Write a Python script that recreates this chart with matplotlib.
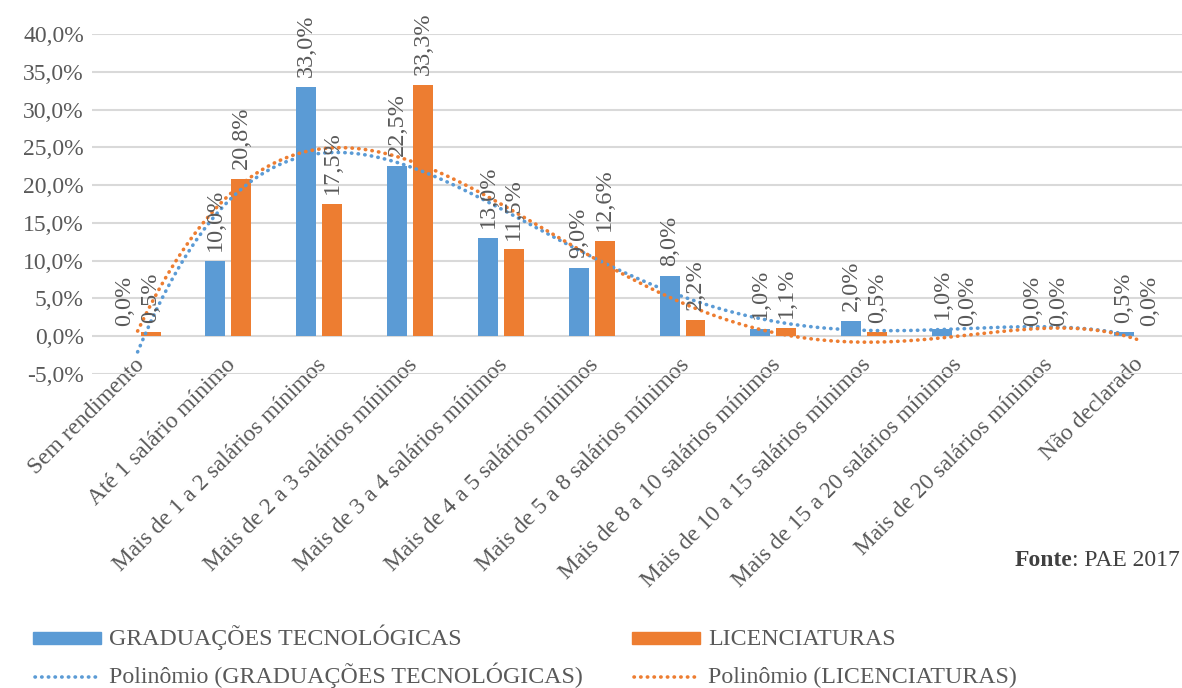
import numpy as np
import matplotlib.pyplot as plt
import matplotlib.transforms as mtransforms
from matplotlib.patches import Rectangle
from matplotlib.lines import Line2D

# Faixas de renda e percentuais por tipo de curso
faixas = ['Sem rendimento', 'Até 1 salário mínimo', 'Mais de 1 a 2 salários mínimos',
          'Mais de 2 a 3 salários mínimos', 'Mais de 3 a 4 salários mínimos',
          'Mais de 4 a 5 salários mínimos', 'Mais de 5 a 8 salários mínimos',
          'Mais de 8 a 10 salários mínimos', 'Mais de 10 a 15 salários mínimos',
          'Mais de 15 a 20 salários mínimos', 'Mais de 20 salários mínimos', 'Não declarado']
tecnologicas = [0.0, 10.0, 33.0, 22.5, 13.0, 9.0, 8.0, 1.0, 2.0, 1.0, 0.0, 0.5]
licenciaturas = [0.5, 20.8, 17.5, 33.3, 11.5, 12.6, 2.2, 1.1, 0.5, 0.0, 0.0, 0.0]
y_ticks = [-5, 0, 5, 10, 15, 20, 25, 30, 35, 40]
series = ['GRADUAÇÕES TECNOLÓGICAS', 'LICENCIATURAS']

azul = '#5b9bd5'
laranja = '#ed7d31'
cinza = '#595959'
pontilhado = (0, (0.1, 1.75))

plt.rcParams['font.family'] = ['Liberation Serif', 'DejaVu Serif']

W, H = 1182, 688
fig = plt.figure(figsize=(W / 100, H / 100), dpi=100)
ax = fig.add_axes([0.078, 0.4564, 0.922, 0.4942])

x = np.arange(1, len(faixas) + 1)
largura = 0.22
desl = 0.143

ax.bar(x - desl, tecnologicas, largura, color=azul, zorder=2)
ax.bar(x + desl, licenciaturas, largura, color=laranja, zorder=2)

def fmt(v):
    return f'{v:.1f}%'.replace('.', ',')

for xi, v in zip(x, tecnologicas):
    ax.annotate(fmt(v), (xi - desl, v), xytext=(0, 7), textcoords='offset points',
                rotation=90, ha='center', va='bottom', fontsize=17.5, color=cinza, zorder=4)
for xi, v in zip(x, licenciaturas):
    ax.annotate(fmt(v), (xi + desl, v), xytext=(0, 7), textcoords='offset points',
                rotation=90, ha='center', va='bottom', fontsize=17.5, color=cinza, zorder=4)

# Linhas de tendência polinomiais (ordem 5)
xs = np.linspace(1, len(faixas), 300)
p_tec = np.polyfit(x, tecnologicas, 5)
p_lic = np.polyfit(x, licenciaturas, 5)
ax.plot(xs, np.polyval(p_tec, xs), color=azul, lw=2.6, linestyle=pontilhado,
        dash_capstyle='round', zorder=3)
ax.plot(xs, np.polyval(p_lic, xs), color=laranja, lw=2.6, linestyle=pontilhado,
        dash_capstyle='round', zorder=3)

ax.set_xlim(0.5, len(faixas) + 0.5)
ax.set_ylim(-5, 40)
ax.set_yticks(y_ticks)
ax.set_yticklabels([fmt(t) for t in y_ticks], fontsize=17, color=cinza)
ax.set_xticks(x)
ax.set_xticklabels(faixas, rotation=45, ha='right', va='center', rotation_mode='anchor',
                   fontsize=16.8, color=cinza)
ax.tick_params(axis='y', length=0, pad=6)
ax.tick_params(axis='x', length=0, pad=-9)
desloc = mtransforms.ScaledTranslation(4 / 100, 0, fig.dpi_scale_trans)
for lbl in ax.get_xticklabels():
    lbl.set_transform(lbl.get_transform() + desloc)
ax.yaxis.grid(True, color='#d9d9d9', lw=1.5, zorder=0)
ax.set_axisbelow(True)
for s in ax.spines.values():
    s.set_visible(False)

# Fonte dos dados
t = fig.text(0.998, 0.186, ': PAE 2017', ha='right', va='center', fontsize=17, color='#404040')
fig.canvas.draw()
bb = t.get_window_extent().transformed(fig.transFigure.inverted())
fig.text(bb.x0, 0.186, 'Fonte', ha='right', va='center', fontsize=17,
         fontweight='bold', color='#404040')

# Legenda montada à mão, em pixels da figura
def fx(px):
    return px / W

def fy(py):
    return 1 - py / H

for cor, nome, x0 in [(azul, series[0], 33), (laranja, series[1], 632)]:
    fig.add_artist(Rectangle((fx(x0), fy(644)), fx(68), 12 / H, color=cor,
                             transform=fig.transFigure))
    fig.text(fx(x0 + 76), fy(645), nome, ha='left', va='baseline', fontsize=17.2, color=cinza)
    fig.add_artist(Line2D([fx(x0 + 2), fx(x0 + 68)], [fy(677), fy(677)], color=cor, lw=2.6,
                          linestyle=pontilhado, dash_capstyle='round',
                          transform=fig.transFigure))
    fig.text(fx(x0 + 76), fy(683), f'Polinômio ({nome})', ha='left', va='baseline',
             fontsize=17.2, color=cinza)

fig.savefig('out.png', dpi=100)
